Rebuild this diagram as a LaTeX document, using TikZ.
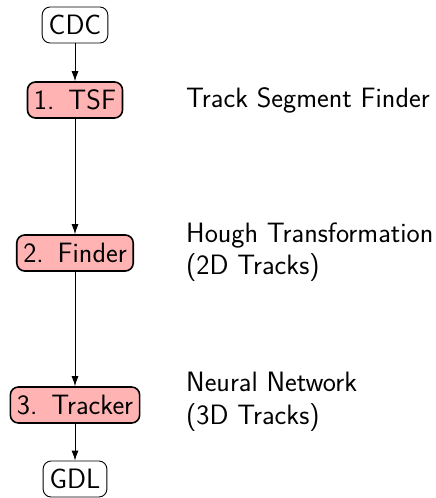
\documentclass[tikz,border=0pt]{standalone}
\usetikzlibrary{arrows.meta}
\definecolor{boxpink}{RGB}{255,179,179}
\newcommand{\stepnum}[2]{#1.\hspace{0.5em}#2}
\begin{document}
\begin{tikzpicture}[x=1pt,y=1pt,
  font=\sffamily\fontsize{28}{32.5}\selectfont,
  plainbox/.style={draw, line width=0.9pt, rounded corners=8pt, minimum height=36pt, inner xsep=6.5pt, inner ysep=0pt, fill=white},
  stagebox/.style={draw, line width=1.6pt, rounded corners=8pt, minimum height=36pt, inner xsep=6.5pt, inner ysep=0pt, fill=boxpink},
  conn/.style={line width=0.9pt, -{Latex[length=10pt,width=7pt]}},
  desc/.style={anchor=west, align=left, inner sep=0pt}]
\useasboundingbox (0,0) rectangle (436,-498);
\node[plainbox] (cdc) at (75,-25) {CDC};
\node[stagebox] (tsf) at (75,-100) {\stepnum{1}{TSF}};
\node[stagebox] (finder) at (75,-253) {\stepnum{2}{Finder}};
\node[stagebox] (tracker) at (75,-405) {\stepnum{3}{Tracker}};
\node[plainbox] (gdl) at (75,-479) {GDL};
\draw[conn] (cdc) -- (tsf);
\draw[conn] (tsf) -- (finder);
\draw[conn] (finder) -- (tracker);
\draw[conn] (tracker) -- (gdl);
\node[desc] (l1) at (186,-100) {Track Segment Finder};
\node[desc] (l2) at (186,-252) {Hough Transformation\\(2D Tracks)};
\node[desc] (l3) at (186,-402) {Neural Network\\(3D Tracks)};
\end{tikzpicture}
\end{document}
